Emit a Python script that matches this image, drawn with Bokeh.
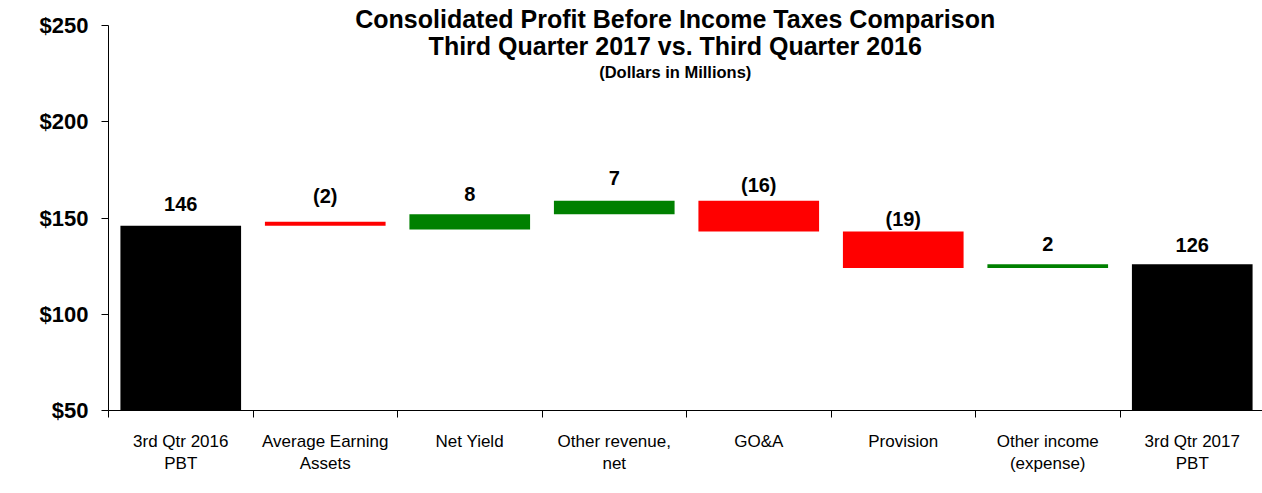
from bokeh.plotting import figure
from bokeh.models import Range1d, FixedTicker, Label, ColumnDataSource, NumeralTickFormatter
from bokeh.core.properties import value
from bokeh.embed import file_html
from bokeh.resources import INLINE

categories = ["3rd Qtr 2016\nPBT", "Average Earning\nAssets", "Net Yield", "Other revenue,\nnet",
              "GO&A", "Provision", "Other income\n(expense)", "3rd Qtr 2017\nPBT"]
bar_bottom = [50, 146, 144, 152, 143, 124, 124, 50]
bar_top = [146, 148, 152, 159, 159, 143, 126, 126]
value_labels = ["146", "(2)", "8", "7", "(16)", "(19)", "2", "126"]
bar_colors = ["#000000", "#FF0000", "#008000", "#008000", "#FF0000", "#FF0000", "#008000", "#000000"]
label_y = [157.3, 161.4, 162.6, 170.9, 167.1, 149.6, 136.7, 136.0]
y_ticks = [50, 100, 150, 200, 250]
title_lines = ["Consolidated Profit Before Income Taxes Comparison",
               "Third Quarter 2017 vs. Third Quarter 2016",
               "(Dollars in Millions)"]

FONT = "Liberation Sans"
n = len(categories)
centers = [i + 0.5 for i in range(n)]
bounds = list(range(n + 1))

PX_PER_CAT = 144.5
PX_PER_UNIT = 1.925
W, H = 1262, 493
LEFT, BOTTOM = 108, 83

p = figure(width=W, height=H, output_backend="svg", toolbar_location=None,
           x_range=Range1d(0, (W - LEFT) / PX_PER_CAT),
           y_range=Range1d(50, 50 + (H - BOTTOM) / PX_PER_UNIT),
           min_border_left=LEFT, min_border_right=0, min_border_top=0, min_border_bottom=BOTTOM)
p.outline_line_color = None
p.grid.visible = False
p.background_fill_color = "white"
p.border_fill_color = "white"

src = ColumnDataSource(dict(x=centers, bottom=bar_bottom, top=bar_top, color=bar_colors,
                            lab=value_labels, ly=label_y))
p.vbar(x="x", bottom="bottom", top="top", width=0.835, fill_color="color", line_color=None, source=src)
p.text(x="x", y="ly", text="lab", source=src, text_align="center", text_baseline="middle",
       text_font=value(FONT), text_font_style="bold", text_font_size="20px", text_color="black")

# axes
xa = p.xaxis[0]
xa.ticker = FixedTicker(ticks=centers, minor_ticks=bounds)
xa.major_label_overrides = {c: lab for c, lab in zip(centers, categories)}
xa.major_tick_out = 0
xa.major_tick_in = 0
xa.major_tick_line_color = None
xa.minor_tick_out = 7
xa.minor_tick_in = 0
xa.minor_tick_line_color = "black"
xa.axis_line_color = "black"
xa.major_label_text_font = FONT
xa.major_label_text_font_size = "17px"
xa.major_label_text_color = "black"
xa.major_label_standoff = 14

ya = p.yaxis[0]
ya.ticker = FixedTicker(ticks=y_ticks)
ya.bounds = (y_ticks[0], y_ticks[-1])
ya.formatter = NumeralTickFormatter(format="$0")
ya.major_tick_out = 7
ya.major_tick_in = 0
ya.minor_tick_line_color = None
ya.axis_line_color = "black"
ya.major_label_text_font = FONT
ya.major_label_text_font_style = "bold"
ya.major_label_text_font_size = "22px"
ya.major_label_text_color = "black"
ya.major_label_standoff = 13

title_y = [253.5, 239.1, 225.9]
title_size = ["25px", "25px", "16.5px"]
for t, ty, ts in zip(title_lines, title_y, title_size):
    p.add_layout(Label(x=3.922, y=ty, text=t, text_align="center", text_baseline="middle",
                       text_font=FONT, text_font_style="bold", text_font_size=ts, text_color="black"))

open("out.html", "w").write(file_html(p, INLINE))
